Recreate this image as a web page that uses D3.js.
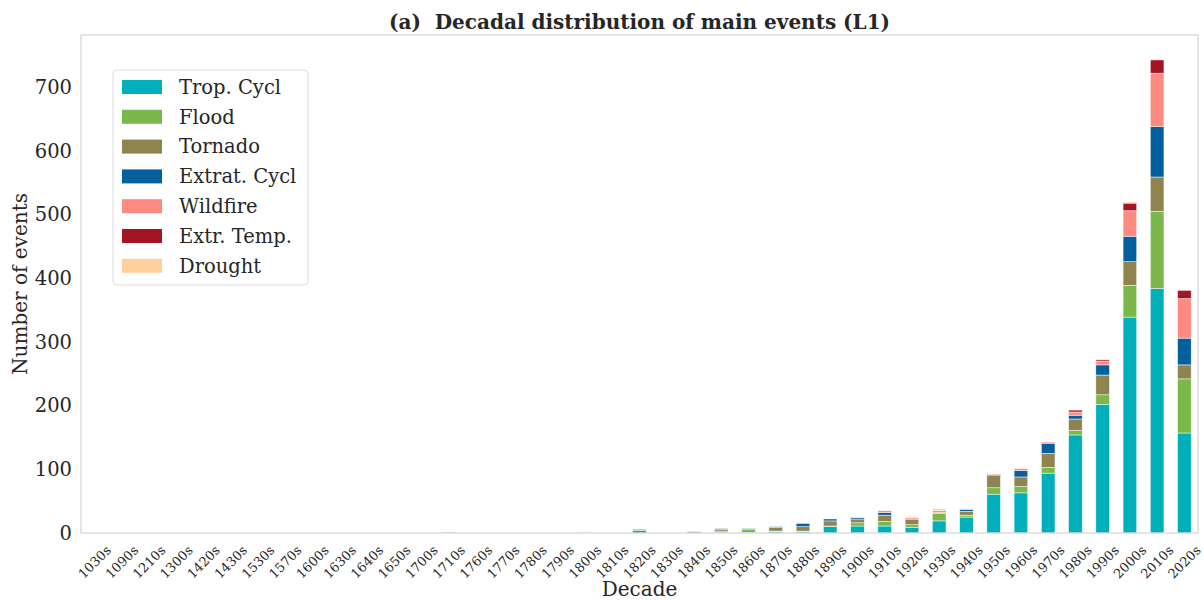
<!DOCTYPE html>
<html>
<head>
<meta charset="utf-8">
<script src="https://cdn.jsdelivr.net/npm/d3@7"></script>
<style>
  body { margin: 0; background: #fff; }
  text { font-family: "DejaVu Serif", serif; fill: #262626; }
</style>
</head>
<body>
<svg id="chart"></svg>
<script>
// decades on the x axis
var decades = ["1030s","1090s","1210s","1300s","1420s","1430s","1530s","1570s","1600s","1630s",
  "1640s","1650s","1700s","1710s","1760s","1770s","1780s","1790s","1800s","1810s",
  "1820s","1830s","1840s","1850s","1860s","1870s","1880s","1890s","1900s","1910s",
  "1920s","1930s","1940s","1950s","1960s","1970s","1980s","1990s","2000s","2010s","2020s"];

var eventTypes = ["Trop. Cycl", "Flood", "Tornado", "Extrat. Cycl", "Wildfire", "Extr. Temp.", "Drought"];
var colors = ["#00afba", "#79b849", "#8f8450", "#02609e", "#ff8a80", "#a41524", "#ffcf9c"];

// counts per decade, one array per event type (same order as decades)
var tropCycl  = [0,0,0,0,0,0,0,0,0,0, 0,0,0,0,0,0,0,0,1,0, 4,0,0,1,1,2,2,10,11,11, 9,19,25,61,63,94,154,202,339,384,157];
var flood     = [0,0,0,0,0,0,0,0,0,0, 0,0,0,0,0,0,0,0,0,0, 2,0,0,2,5,1,1,1,5,7, 4,12,3,10,10,9,7,15,50,121,85];
var tornado   = [0,0,0,0,0,0,0,0,0,0, 0,0,0,0,0,0,0,0,0,0, 0,0,2,3,0,6,7,8,6,10, 8,1,6,19,15,22,18,31,37,54,22];
var extratCycl= [0,0,0,0,0,0,0,0,0,0, 0,0,0,1,0,0,0,0,0,0, 0,0,0,1,1,1,5,3,2,4, 1,0,3,2,10,16,6,16,40,79,42];
var wildfire  = [0,0,0,0,0,0,0,0,0,0, 0,0,0,0,0,0,0,0,0,0, 0,0,0,0,0,0,0,0,0,3, 2,3,1,1,3,2,5,6,40,84,62];
var extrTemp  = [0,0,0,0,0,0,0,0,0,0, 0,0,0,0,0,0,0,0,0,0, 0,0,0,0,0,0,0,0,0,0, 0,0,0,0,0,0,3,2,12,21,13];
var drought   = [0,0,0,0,0,0,0,0,0,0, 0,0,0,0,0,0,0,0,0,0, 0,0,0,0,0,0,0,0,0,0, 2,3,0,1,0,1,0,0,2,1,0];

var yTicks = [0, 100, 200, 300, 400, 500, 600, 700];

var series = [tropCycl, flood, tornado, extratCycl, wildfire, extrTemp, drought];

var width = 1203, height = 600,
    margin = {top: 35, right: 5, bottom: 67, left: 81};

var rows = decades.map(function(d, i) {
  var r = {decade: d};
  eventTypes.forEach(function(t, j) { r[t] = series[j][i]; });
  return r;
});

var stacked = d3.stack().keys(eventTypes)(rows);

var svg = d3.select("#chart")
    .attr("width", width)
    .attr("height", height);

var x = d3.scaleBand()
    .domain(decades)
    .range([margin.left, width - margin.right])
    .paddingInner(0.5)
    .paddingOuter(0.25);

var y = d3.scaleLinear()
    .domain([0, 782])
    .range([height - margin.bottom, margin.top]);

// bars
svg.append("g")
  .selectAll("g")
  .data(stacked)
  .enter()
    .append("g")
    .attr("fill", function(d, i) { return colors[i]; })
  .selectAll("rect")
  .data(function(d) { return d; })
  .enter()
    .append("rect")
    .attr("x", function(d) { return x(d.data.decade); })
    .attr("y", function(d) { return y(d[1]); })
    .attr("width", x.bandwidth())
    .attr("height", function(d) { return y(d[0]) - y(d[1]); })
    .attr("stroke", "#fff")
    .attr("stroke-opacity", 0.8)
    .attr("stroke-width", 0.6);

// y axis
var yAxis = d3.axisLeft(y).tickValues(yTicks).tickSize(0).tickPadding(9);
var gy = svg.append("g")
    .attr("transform", "translate(" + margin.left + ",0)")
    .call(yAxis);
gy.select(".domain").remove();
gy.selectAll("text")
    .style("font-family", "DejaVu Serif, serif")
    .style("font-size", "19.5px")
    .attr("fill", "#262626");

// x axis
var xAxis = d3.axisBottom(x).tickSize(0).tickFormat("");
var gx = svg.append("g")
    .attr("transform", "translate(0," + (height - margin.bottom) + ")")
    .call(xAxis);
gx.select(".domain").remove();

svg.append("g")
  .selectAll("text")
  .data(decades)
  .enter()
    .append("text")
    .attr("transform", function(d) {
      return "translate(" + (x(d) + x.bandwidth() / 2) + "," + (height - margin.bottom + 29) + ") rotate(-45)";
    })
    .attr("text-anchor", "middle")
    .attr("dominant-baseline", "central")
    .style("font-size", "13px")
    .text(function(d) { return d; });

// frame
svg.append("rect")
    .attr("x", margin.left)
    .attr("y", margin.top)
    .attr("width", width - margin.left - margin.right)
    .attr("height", height - margin.top - margin.bottom)
    .attr("fill", "none")
    .attr("stroke", "#d6d6d6")
    .attr("stroke-width", 1.25);

// title and axis labels
svg.append("text")
    .attr("x", (margin.left + width - margin.right) / 2)
    .attr("y", 29)
    .attr("text-anchor", "middle")
    .style("font-size", "20px")
    .style("font-weight", "bold")
    .attr("xml:space", "preserve")
    .text("(a)  Decadal distribution of main events (L1)");

svg.append("text")
    .attr("x", (margin.left + width - margin.right) / 2)
    .attr("y", 596)
    .attr("text-anchor", "middle")
    .style("font-size", "20px")
    .text("Decade");

svg.append("text")
    .attr("transform", "translate(27," + ((margin.top + height - margin.bottom) / 2) + ") rotate(-90)")
    .attr("text-anchor", "middle")
    .style("font-size", "20px")
    .text("Number of events");

// legend
var legend = svg.append("g").attr("transform", "translate(113,70)");
legend.append("rect")
    .attr("width", 195)
    .attr("height", 215)
    .attr("rx", 4)
    .attr("fill", "#fff")
    .attr("fill-opacity", 0.8)
    .attr("stroke", "#dcdcdc");

var item = legend.selectAll(".item")
  .data(eventTypes)
  .enter()
    .append("g")
    .attr("class", "item")
    .attr("transform", function(d, i) { return "translate(9," + (17 + i * 29.8) + ")"; });

item.append("rect")
    .attr("y", -7)
    .attr("width", 40)
    .attr("height", 14)
    .attr("fill", function(d, i) { return colors[i]; });

item.append("text")
    .attr("x", 57)
    .attr("dy", "0.35em")
    .style("font-size", "19.5px")
    .text(function(d) { return d; });
</script>
</body>
</html>
